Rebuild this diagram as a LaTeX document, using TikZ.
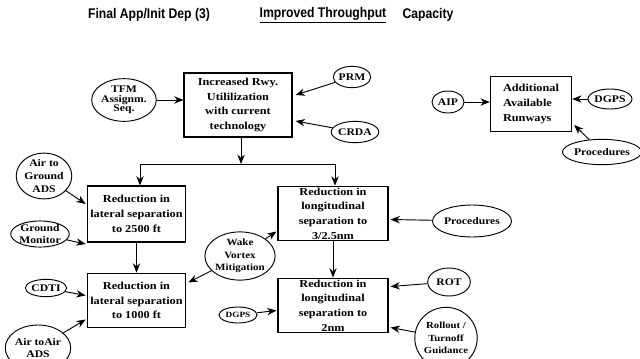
\documentclass[tikz,border=0pt]{standalone}
\usepackage{fontspec}
\usepackage{tikz}
\usetikzlibrary{arrows.meta,positioning,calc,shapes.geometric}

\newfontfamily\lblfont{Liberation Serif}[FakeStretch=1.15]
\newfontfamily\hdrfont{Liberation Sans}[FakeStretch=0.87]

\begin{document}
\begin{tikzpicture}[x=0.75pt, y=-0.75pt,
  >={Stealth[length=7pt,width=5.5pt]},
  line width=0.7pt,
  header/.style={font=\hdrfont\bfseries\fontsize{10.5}{12}\selectfont, inner sep=0pt},
  block/.style={rectangle, draw, line width=0.8pt, inner sep=0pt, align=center,
    font=\lblfont\bfseries\fontsize{8}{11}\selectfont},
  enabler/.style={ellipse, draw, inner sep=0pt, align=center,
    font=\lblfont\bfseries\fontsize{7.6}{9.5}\selectfont}
]
\useasboundingbox (0,0) rectangle (640,358);

% Column headers
\node[header] (hfinal) at (149,15) {Final App/Init Dep (3)};
\node[header] (hthru) at (323,15) {\underline{Improved Throughput}};
\node[header] (hcap) at (428,15) {Capacity};

% Runway utilization (top)
\node[block, minimum width=81pt, minimum height=48pt] (incr) at (238,105)
  {Increased Rwy.\\Utililization\\with current\\technology};
\node[enabler, minimum width=37pt, minimum height=32pt,
  font=\lblfont\bfseries\fontsize{7.6}{7}\selectfont] (tfm) at (124,100) {TFM\\Assignm.\\Seq.};
\node[enabler, minimum width=24pt, minimum height=16pt] (prm) at (352,77) {PRM};
\node[enabler, minimum width=28.5pt, minimum height=16pt] (crda) at (355,132) {CRDA};

% Additional runways (right)
\node[block, minimum width=61pt, minimum height=41pt, align=left] (addl) at (531,104)
  {Additional\\Available\\Runways};
\node[enabler, minimum width=24pt, minimum height=16.5pt] (aip) at (448,102) {AIP};
\node[enabler, minimum width=27pt, minimum height=15pt] (dgpsA) at (610,99) {DGPS};
\node[enabler, minimum width=45pt, minimum height=19pt] (procA) at (602,152) {Procedures};

% Split below runway utilization
\coordinate (split) at (241,164);
\coordinate (splitL) at (140,164);
\coordinate (splitR) at (335,164);

% Lateral separation (left)
\node[block, minimum width=74pt, minimum height=42pt] (lat1) at (136.5,214)
  {Reduction in\\lateral separation\\to 2500 ft};
\node[block, minimum width=74pt, minimum height=41pt] (lat2) at (136.5,300.5)
  {Reduction in\\lateral separation\\to 1000 ft};
\node[enabler, minimum width=34pt, minimum height=33pt] (agads) at (44,176) {Air to\\Ground\\ADS};
\node[enabler, minimum width=42pt, minimum height=18pt,
  font=\lblfont\bfseries\fontsize{7.6}{8.5}\selectfont] (gmon) at (40,234) {Ground\\Monitor};
\node[enabler, minimum width=31pt, minimum height=13pt] (cdti) at (46,288) {CDTI};
\node[enabler, minimum width=34.5pt, minimum height=34.5pt] (aaads) at (38,348) {Air toAir\\ADS};

% Wake vortex (middle)
\node[enabler, minimum width=35pt, minimum height=35pt,
  font=\lblfont\bfseries\fontsize{7.2}{9.5}\selectfont] (wake) at (240,256) {Wake\\Vortex\\Mitigation};

% Longitudinal separation (right)
\node[block, minimum width=82.5pt, minimum height=41pt] (long1) at (333,213.5)
  {Reduction in\\longitudinal\\separation to\\3/2.5nm};
\node[block, minimum width=82.5pt, minimum height=41pt] (long2) at (333,305.5)
  {Reduction in\\longitudinal\\separation to\\2nm};
\node[enabler, minimum width=45pt, minimum height=24pt] (procB) at (472,221) {Procedures};
\node[enabler, minimum width=28.5pt, minimum height=12pt,
  font=\lblfont\bfseries\fontsize{6}{7}\selectfont] (dgpsB) at (238,315) {DGPS};
\node[enabler, minimum width=32pt, minimum height=21pt] (rot) at (449,282) {ROT};
\node[enabler, minimum width=46.5pt, minimum height=46pt,
  font=\lblfont\bfseries\fontsize{7}{9.5}\selectfont] (roll) at (446,338) {Rollout /\\Turnoff\\Guidance};

% Arrows - enablers to runway utilization
\draw[->] (tfm) -- (incr.west |- tfm);
\draw[->] (prm) -- ($(incr.east)+(3,-10)$);
\draw[->] (crda) -- ($(incr.east)+(3,16)$);

% Arrows - runway utilization split
\draw[->] (incr.south -| split) -- (split);
\draw (splitL) -- (splitR);
\draw[->] (splitL) -- (splitL |- lat1.north);
\draw[->] (splitR) -- (splitR |- long1.north);

% Arrows - lateral separation
\draw[->] (agads) -- ($(lat1.west)+(-1,-10)$);
\draw[->] (gmon) -- ($(lat1.west)+(-1,30)$);
\draw[->] (lat1) -- (lat2);
\draw[->] (cdti) -- ($(lat2.west)+(-1,-5)$);
\draw[->] (aaads) -- ($(lat2.west)+(-1,19)$);

% Arrows - wake vortex
\draw[->] (wake) -- ($(long1.west)+(-1,18)$);
\draw[->] (wake) -- ($(lat2.east)+(2,-18)$);

% Arrows - longitudinal separation
\draw[->] (procB) -- ($(long1.east)+(2,6)$);
\draw[->] (long1) -- (long2);
\draw[->] (dgpsB) -- ($(long2.west)+(-1,5)$);
\draw[->] (rot) -- ($(long2.east)+(2,-19)$);
\draw[->] (roll) -- ($(long2.east)+(2,22)$);

% Arrows - additional runways
\draw[->] (aip) -- (addl.west |- aip);
\draw[->] (dgpsA) -- (addl.east |- dgpsA);
\draw[->] (procA) -- ($(addl.east)+(2,21)$);

\end{tikzpicture}
\end{document}
